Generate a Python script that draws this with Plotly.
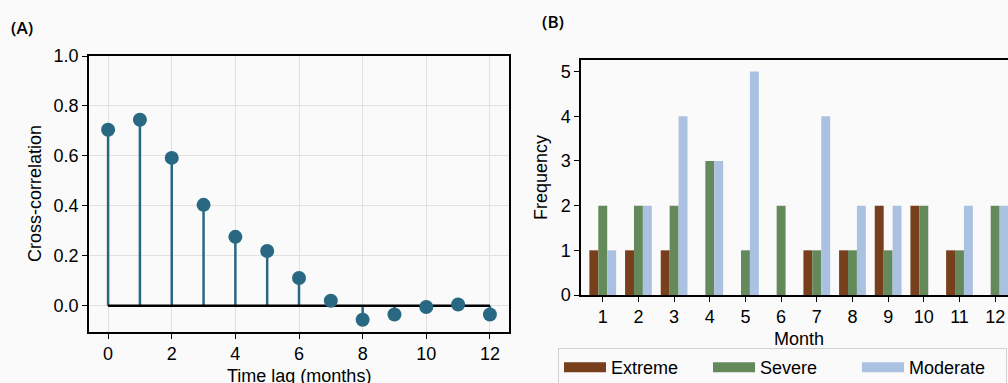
import plotly.graph_objects as go

# Panel A data
lags = [0, 1, 2, 3, 4, 5, 6, 7, 8, 9, 10, 11, 12]
xcorr = [0.705, 0.745, 0.592, 0.404, 0.276, 0.219, 0.111, 0.020, -0.056, -0.035, -0.005, 0.005, -0.035]

# Panel B data
months = [1, 2, 3, 4, 5, 6, 7, 8, 9, 10, 11, 12]
extreme = [1, 1, 1, 0, 0, 0, 1, 1, 2, 2, 1, 0]
severe = [2, 2, 2, 3, 1, 2, 1, 1, 1, 2, 1, 2]
moderate = [1, 2, 4, 3, 5, 0, 4, 2, 2, 0, 2, 2]
series_names = ["Extreme", "Severe", "Moderate"]
series_colors = ["#773f1b", "#648a5c", "#aac1e1"]

W, H = 1008, 383
FONT = "Liberation Sans, Arial, sans-serif"
FS = 18
STEM = "#286882"
BG = "#fafafa"

def px(x):
    return x / W

def py(y):
    return 1 - y / H

fig = go.Figure()

# stems
sx, sy = [], []
for l, v in zip(lags, xcorr):
    sx += [l, l, None]
    sy += [0, v, None]
fig.add_trace(go.Scatter(x=sx, y=sy, mode="lines", line=dict(color=STEM, width=2.5),
                         showlegend=False, xaxis="x", yaxis="y", hoverinfo="skip"))
# baseline
fig.add_trace(go.Scatter(x=[lags[0], lags[-1]], y=[0, 0], mode="lines",
                         line=dict(color="black", width=2.5), showlegend=False,
                         xaxis="x", yaxis="y"))
# markers
fig.add_trace(go.Scatter(x=lags, y=xcorr, mode="markers",
                         marker=dict(color=STEM, size=14), showlegend=False,
                         xaxis="x", yaxis="y"))

# bars
for name, vals, col in zip(series_names, [extreme, severe, moderate], series_colors):
    fig.add_trace(go.Bar(x=months, y=vals, name=name, legendgroup=name, showlegend=False,
                         marker=dict(color=col, line=dict(width=0)),
                         xaxis="x2", yaxis="y2"))
# wide legend swatches for the bar series
for name, col in zip(series_names, series_colors):
    fig.add_trace(go.Scatter(x=[None], y=[None], mode="lines", name=name, legendgroup=name,
                             line=dict(color=col, width=13), xaxis="x2", yaxis="y2"))

axis_common = dict(ticks="outside", ticklen=5, tickwidth=1.2, tickcolor="black",
                   showline=True, linecolor="black", linewidth=1.5,
                   tickfont=dict(family=FONT, size=FS, color="black"), zeroline=False)

fig.update_layout(
    width=W, height=H, autosize=False,
    margin=dict(l=0, r=0, t=0, b=0, autoexpand=False),
    paper_bgcolor=BG, plot_bgcolor=BG,
    barmode="group", bargap=0.25, bargroupgap=0,
    xaxis=dict(domain=[px(89), px(509)], range=[-0.6, 12.6], tickvals=[0, 2, 4, 6, 8, 10, 12],
               showgrid=True, gridcolor="#e3e0e0", gridwidth=1, mirror=True, anchor="y",
               **axis_common),
    yaxis=dict(domain=[py(332), py(56)], range=[-0.105, 1.0], tickvals=[0, 0.2, 0.4, 0.6, 0.8, 1.0],
               tickformat=".1f", showgrid=True, gridcolor="#e3e0e0", gridwidth=1, mirror=True,
               anchor="x", **axis_common),
    xaxis2=dict(domain=[px(581), 1.0], range=[0.39, 12.36], tickvals=months, showgrid=False,
                mirror=True, anchor="y2", **axis_common),
    yaxis2=dict(domain=[py(295), py(60)], range=[0, 5.26], tickvals=[0, 1, 2, 3, 4, 5],
                showgrid=False, anchor="x2", **axis_common),
    legend=dict(orientation="h", x=px(558), y=py(348), xanchor="left", yanchor="top",
                bgcolor=BG, bordercolor="#d0d0d0", borderwidth=1,
                font=dict(family=FONT, size=FS, color="black"),
                entrywidth=92, entrywidthmode="pixels", itemwidth=42,
                traceorder="normal"),
    showlegend=True,
    annotations=[
        dict(text="(A)", x=px(9), y=py(27), xref="paper", yref="paper", xanchor="left",
             yanchor="middle", showarrow=False,
             font=dict(family="Open Sans, sans-serif", size=17, color="black", weight=600)),
        dict(text="(B)", x=px(540), y=py(22), xref="paper", yref="paper", xanchor="left",
             yanchor="middle", showarrow=False,
             font=dict(family="Open Sans, sans-serif", size=17, color="black", weight=600)),
        dict(text="Cross-correlation", x=px(35), y=py(194), xref="paper", yref="paper",
             textangle=-90, showarrow=False, xanchor="center", yanchor="middle",
             font=dict(family=FONT, size=FS, color="black")),
        dict(text="Time lag (months)", x=px(299), y=py(376), xref="paper", yref="paper",
             showarrow=False, xanchor="center", yanchor="middle",
             font=dict(family=FONT, size=FS, color="black")),
        dict(text="Frequency", x=px(541), y=py(178), xref="paper", yref="paper",
             textangle=-90, showarrow=False, xanchor="center", yanchor="middle",
             font=dict(family=FONT, size=FS, color="black")),
        dict(text="Month", x=px(799), y=py(339), xref="paper", yref="paper",
             showarrow=False, xanchor="center", yanchor="middle",
             font=dict(family=FONT, size=FS, color="black")),
    ],
)

fig.write_html("out.html")
